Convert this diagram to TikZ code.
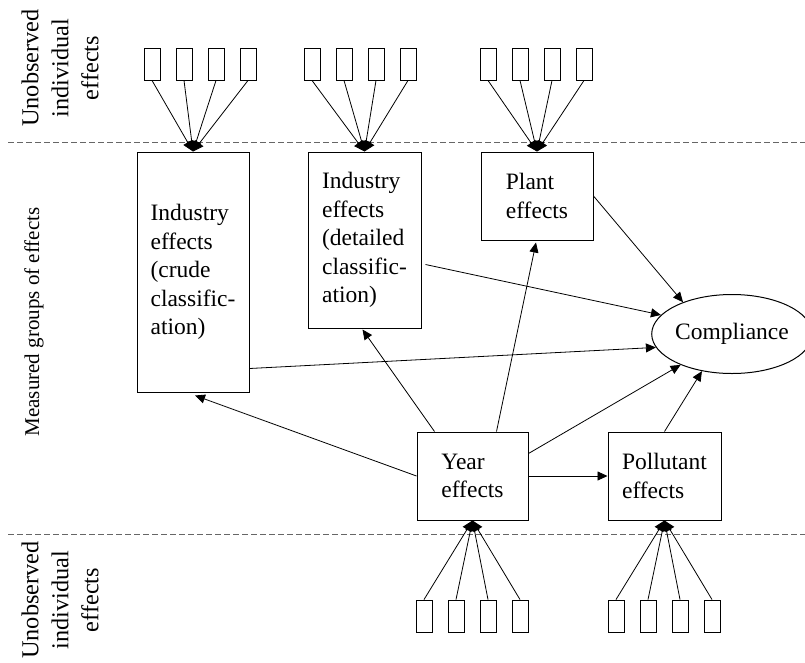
\documentclass[tikz,border=0pt]{standalone}
\usepackage{fontspec}
\setmainfont{Liberation Serif}
\usetikzlibrary{arrows.meta,calc,shapes.geometric}
\begin{document}
\begin{tikzpicture}[x=1pt,y=-1pt,
  txt/.style={font=\fontsize{23.5}{28.5}\selectfont},
  bigbox/.style={draw,line width=1pt,txt,align=left,inner sep=0pt},
  unit/.style={draw,line width=0.9pt,minimum width=16pt,minimum height=32pt,inner sep=0pt},
  link/.style={line width=0.8pt,-{Triangle[length=10pt,width=9pt]}},
  feed/.style={line width=0.8pt,-{Triangle[length=10.5pt,width=10pt]}},
  sep/.style={draw=black!60,line width=0.9pt,dash pattern=on 6pt off 3pt},
  side/.style={rotate=90,align=center,inner sep=0pt,font=\fontsize{24.3}{30}\selectfont}]
\useasboundingbox (0,0) rectangle (805,662);

% level separators
\draw[sep] (8,142) -- (805,142);
\draw[sep] (8,534) -- (805,534);

% side labels
\node[side] (lbltop) at (60,68) {Unobserved\\individual\\effects};
\node[side,font=\fontsize{21}{26}\selectfont] (lblmid) at (34,322) {Measured groups of effects};
\node[side] (lblbot) at (60,600) {Unobserved\\individual\\effects};

% measured groups
\node[bigbox,minimum width=112pt,minimum height=240pt] (crude) at (193,272)
  {Industry\\effects\\(crude\\classific-\\ation)};
\node[bigbox,minimum width=113pt,minimum height=176pt] (det) at (364.5,240)
  {Industry\\effects\\(detailed\\classific-\\ation)};
\node[bigbox,minimum width=112pt,minimum height=88pt] (plant) at (537,196)
  {Plant\\effects};
\node[bigbox,minimum width=111pt,minimum height=88pt] (year) at (472.5,476)
  {Year\\effects};
\node[bigbox,minimum width=113pt,minimum height=88pt] (pol) at (664.5,476)
  {Pollutant\\effects};
\node[draw,ellipse,line width=1pt,txt,inner sep=0pt,minimum width=128pt,minimum height=79pt]
  (comp) at (732,334) {Compliance};

% unobserved individual effects, top row
\foreach \g/\x in {a/152,b/312,c/488}{
  \foreach \i in {1,...,4}{
    \node[unit] (\g\i) at ({\x+32*(\i-1)},64) {};
  }
}
% unobserved individual effects, bottom row
\foreach \g/\x in {d/424,e/616}{
  \foreach \i in {1,...,4}{
    \node[unit] (\g\i) at ({\x+32*(\i-1)},616) {};
  }
}

% individual effects feeding the groups
\foreach \i in {1,...,4}{
  \draw[feed] (a\i.south) -- (crude.north);
  \draw[feed] (b\i.south) -- (det.north);
  \draw[feed] (c\i.south) -- (plant.north);
  \draw[feed] (d\i.north) -- (year.south);
  \draw[feed] (e\i.north) -- (pol.south);
}

% effects on compliance
\draw[link] (plant.east) -- (comp.147);
\draw[link] ($(det.south east)+(4,-64)$) -- (comp.165);
\draw[link] ($(crude.south east)+(0,-24)$) -- (comp.190);
\draw[link] ($(year.north east)+(0,22)$) -- (comp.211);
\draw[link] (pol.north) -- (comp.231);

% year effects on the other groups
\draw[link] (year.west) -- ($(crude.south)+(2,3)$);
\draw[link] ($(year.north west)+(18,0)$) -- ($(det.south)+(-2,1)$);
\draw[link] ($(year.north west)+(80,0)$) -- ($(plant.south)+(-1,2)$);
\draw[link] (year.east) -- (pol.west);
\end{tikzpicture}
\end{document}
